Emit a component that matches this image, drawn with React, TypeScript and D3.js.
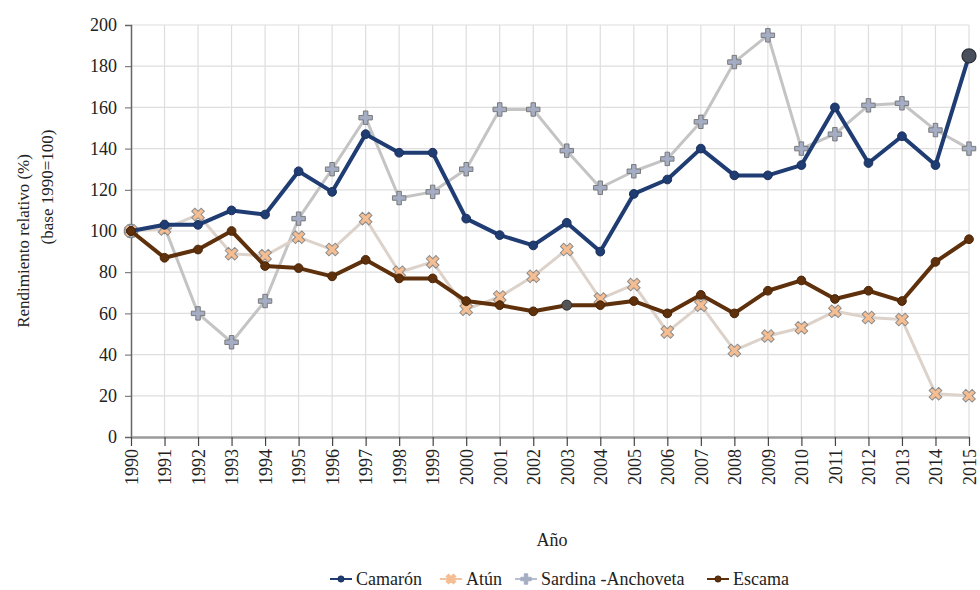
import React, { useRef, useEffect } from 'react';
import * as d3 from 'd3';

const years = d3.range(1990, 2016);
const camaron = [100, 103, 103, 110, 108, 129, 119, 147, 138, 138, 106, 98, 93, 104, 90, 118, 125, 140, 127, 127, 132, 160, 133, 146, 132, 185];
const atun = [100, 101, 108, 89, 88, 97, 91, 106, 80, 85, 62, 68, 78, 91, 67, 74, 51, 64, 42, 49, 53, 61, 58, 57, 21, 20];
const sardina = [100, 102, 60, 46, 66, 106, 130, 155, 116, 119, 130, 159, 159, 139, 121, 129, 135, 153, 182, 195, 140, 147, 161, 162, 149, 140];
const escama = [100, 87, 91, 100, 83, 82, 78, 86, 77, 77, 66, 64, 61, 64, 64, 66, 60, 69, 60, 71, 76, 67, 71, 66, 85, 96];
const yTicks = d3.range(0, 201, 20);

const series = [
  { name: 'Camarón', values: camaron, line: '#1f3c73', width: 4, marker: 'circle', fill: '#1f3c73', stroke: '#1a2f5a' },
  { name: 'Atún', values: atun, line: '#dcd2ca', width: 3, marker: 'x', fill: '#f5bd92', stroke: '#8c8c8c' },
  { name: 'Sardina -Anchoveta', values: sardina, line: '#c4c4c4', width: 3, marker: 'plus', fill: '#a4adc3', stroke: '#7a7a7a' },
  { name: 'Escama', values: escama, line: '#5e300b', width: 4, marker: 'circle', fill: '#5e300b', stroke: '#4a2508' },
];

function App() {
  const svgRef = useRef(null);

  useEffect(() => {
    const svg = d3.select(svgRef.current);
    svg.selectAll('*').remove();

    const width = 980;
    const height = 590;
    const margin = { top: 25, right: 11, bottom: 153, left: 131 };
    const font = "'Liberation Serif', 'DejaVu Serif', 'Times New Roman', serif";

    const x = d3.scaleLinear()
      .domain([1990, 2015])
      .range([margin.left, width - margin.right]);
    const y = d3.scaleLinear()
      .domain([0, 200])
      .range([height - margin.bottom, margin.top]);

    svg.attr('width', width).attr('height', height)
      .style('font-family', font);

    // grid
    svg.append('g').selectAll('line')
      .data(yTicks.slice(1))
      .enter().append('line')
      .attr('x1', x(1990)).attr('x2', x(2015))
      .attr('y1', d => y(d)).attr('y2', d => y(d))
      .attr('stroke', '#dedede').attr('stroke-width', 1.2);
    svg.append('g').selectAll('line')
      .data(years.slice(1))
      .enter().append('line')
      .attr('x1', d => x(d)).attr('x2', d => x(d))
      .attr('y1', y(0)).attr('y2', y(200))
      .attr('stroke', '#dedede').attr('stroke-width', 1.2);

    // y axis
    const yAxis = svg.append('g')
      .attr('transform', `translate(${x(1990)},0)`)
      .call(d3.axisLeft(y).tickValues(yTicks).tickSize(6).tickPadding(8));
    yAxis.attr('font-family', null);
    yAxis.select('.domain').attr('stroke', '#666').attr('stroke-width', 1.5);
    yAxis.selectAll('.tick line').attr('stroke', '#666');
    yAxis.selectAll('.tick text')
      .style('font-family', font).attr('font-size', 18).attr('fill', '#222');

    // x axis
    const xAxis = svg.append('g')
      .attr('transform', `translate(0,${y(0)})`)
      .call(d3.axisBottom(x).tickValues(years).tickFormat(d3.format('d')).tickSize(9).tickSizeOuter(0));
    xAxis.attr('font-family', null);
    xAxis.select('.domain').attr('stroke', '#9a9a9a').attr('stroke-width', 2.5);
    xAxis.selectAll('.tick line').attr('stroke', '#444').attr('stroke-width', 1.2);
    xAxis.selectAll('.tick text')
      .style('font-family', font).attr('font-size', 18).attr('fill', '#222')
      .attr('transform', 'rotate(-90)')
      .attr('text-anchor', 'end')
      .attr('x', -12).attr('y', 0).attr('dy', '0.35em');

    // axis titles
    svg.append('text')
      .attr('transform', `translate(29,${(y(0) + y(200)) / 2 + 10}) rotate(-90)`)
      .attr('text-anchor', 'middle')
      .style('font-family', font).attr('font-size', 17).attr('fill', '#222')
      .text('Rendimiento relativo (%)');
    svg.append('text')
      .attr('transform', `translate(53,${(y(0) + y(200)) / 2 - 44}) rotate(-90)`)
      .attr('text-anchor', 'middle')
      .style('font-family', font).attr('font-size', 17).attr('fill', '#222')
      .text('(base 1990=100)');
    svg.append('text')
      .attr('x', 552).attr('y', 546)
      .attr('text-anchor', 'middle')
      .style('font-family', font).attr('font-size', 18).attr('fill', '#222')
      .text('Año');

    const symbolPath = (m, size) => {
      if (m === 'circle') return d3.symbol(d3.symbolCircle, size)();
      return d3.symbol(d3.symbolCross, size)();
    };

    const drawMarker = (g, s, cx, cy, size) => {
      g.append('path')
        .attr('d', symbolPath(s.marker, size))
        .attr('transform', `translate(${cx},${cy})${s.marker === 'x' ? ' rotate(45)' : ''}`)
        .attr('fill', s.fill)
        .attr('stroke', s.stroke)
        .attr('stroke-width', 1);
    };

    const line = d3.line()
      .x((d, i) => x(years[i]))
      .y(d => y(d));

    // draw order: sardina, atun, camaron, escama (bottom to top)
    const order = [2, 1, 0, 3];
    order.forEach(k => {
      const s = series[k];
      const g = svg.append('g');
      g.append('path')
        .datum(s.values)
        .attr('d', line)
        .attr('fill', 'none')
        .attr('stroke', s.line)
        .attr('stroke-width', s.width)
        .attr('stroke-linejoin', 'round');
      s.values.forEach((v, i) => {
        drawMarker(g, s, x(years[i]), y(v), s.marker === 'circle' ? 60 : 100);
      });
    });

    // highlighted points
    svg.append('circle')
      .attr('cx', x(2003)).attr('cy', y(escama[13])).attr('r', 5)
      .attr('fill', '#555').attr('stroke', '#333');
    svg.append('circle')
      .attr('cx', x(2015)).attr('cy', y(camaron[25])).attr('r', 7)
      .attr('fill', '#4a4f5e').attr('stroke', '#2a2d35').attr('stroke-width', 1.2);

    // legend
    const legendY = 579;
    const legendX = [330, 440, 515, 707];
    series.forEach((s, i) => {
      const lx = legendX[i];
      const g = svg.append('g');
      g.append('line')
        .attr('x1', lx).attr('x2', lx + 22)
        .attr('y1', legendY).attr('y2', legendY)
        .attr('stroke', s.marker === 'circle' ? s.line : (s.marker === 'x' ? '#f0c4a0' : '#b8bfd0'))
        .attr('stroke-width', 2);
      drawMarker(g, { ...s, stroke: s.marker === 'circle' ? s.stroke : s.fill }, lx + 11, legendY, s.marker === 'circle' ? 30 : 60);
      g.append('text')
        .attr('x', lx + 26).attr('y', legendY).attr('dy', '0.35em')
        .style('font-family', font).attr('font-size', 18).attr('fill', '#222')
        .text(s.name);
    });
  }, []);

  return <svg ref={svgRef} style={{ position: 'absolute', left: 0, top: 0 }}></svg>;
}

export default App;
